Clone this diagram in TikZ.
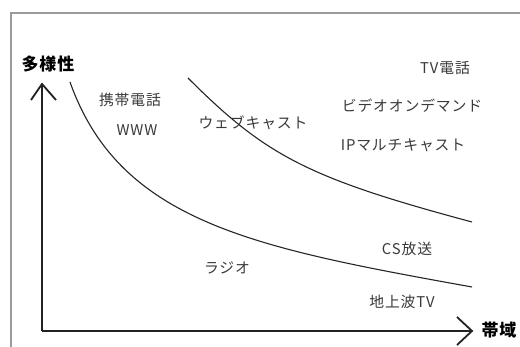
\documentclass[tikz,border=0pt]{standalone}
\usepackage{fontspec}
\newfontfamily\jp[LetterSpace=6]{Noto Sans CJK JP}
\newfontfamily\jpbold[LetterSpace=5]{Noto Sans CJK JP}
\definecolor{txt}{HTML}{3A3A3A}
\definecolor{frame}{HTML}{9A9A9A}
\definecolor{axis}{HTML}{222222}
\tikzset{
  lbl/.style={font=\jp\fontsize{14.8}{15}\selectfont, text=txt, inner sep=0pt},
  axlbl/.style={font=\jpbold\bfseries\fontsize{17}{18}\selectfont, text=black, inner sep=0pt},
  axisline/.style={draw=axis, line width=1.8pt},
  curve/.style={draw=black!85, line width=1.1pt},
}
\begin{document}
\begin{tikzpicture}[x=1pt,y=-1pt]
\useasboundingbox (0,0) rectangle (520,347);
\fill[white] (0,0) rectangle (520,347);
% frame
\draw[frame, line width=2pt] (11,347) -- (11,13.5) -- (520,13.5);
% axes
\coordinate (O) at (42,331);
\coordinate (ytip) at (42,84);
\coordinate (xtip) at (472,331);
\draw[axisline] (O) -- (ytip);
\draw[axisline] (O) -- (xtip);
\draw[axisline, line join=miter] ([shift={(-11,16)}]ytip) -- (ytip) -- ([shift={(14,16)}]ytip);
\draw[axisline, line join=miter] ([shift={(-15,-14)}]xtip) -- (xtip) -- ([shift={(-15,14)}]xtip);
\node[axlbl] (ylab) at (48,64) {多様性};
\node[axlbl] (xlab) at (499,330) {帯域};
% curves
\coordinate (c1a) at (70,82);
\coordinate (c1b) at (472,287);
\coordinate (c2a) at (188,78);
\coordinate (c2b) at (472,222);
\draw[curve] (c1a) .. controls (120,223) and (256,248) .. (c1b);
\draw[curve] (c2a) .. controls (266,156) and (308,178) .. (c2b);
% labels
\node[lbl] (l1) at (130,100) {携帯電話};
\node[lbl] (l2) at (137,130) {WWW};
\node[lbl] (l3) at (253,123) {ウェブキャスト};
\node[lbl] (l4) at (445,68) {TV電話};
\node[lbl] (l5) at (412,106) {ビデオオンデマンド};
\node[lbl] (l6) at (403,145) {IPマルチキャスト};
\node[lbl] (l7) at (407,249) {CS放送};
\node[lbl] (l8) at (227,268) {ラジオ};
\node[lbl] (l9) at (402,302) {地上波TV};
\end{tikzpicture}
\end{document}
